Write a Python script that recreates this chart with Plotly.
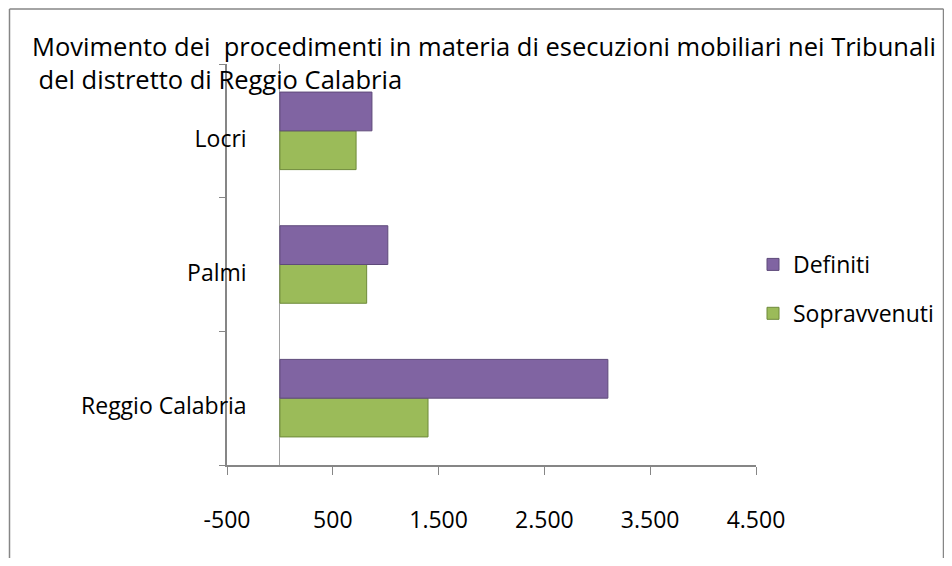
import plotly.graph_objects as go

categories = ["Reggio Calabria", "Palmi", "Locri"]
definiti = [3100, 1020, 870]
sopravvenuti = [1400, 820, 720]
tick_vals = [-500, 500, 1500, 2500, 3500, 4500]
tick_text = ["-500", "500", "1.500", "2.500", "3.500", "4.500"]

FONT = "'Open Sans', Lato, sans-serif"
# the page body has an 8px default margin, so the figure is drawn 8px lower/right
OFF = 8
W, H = 952 - 2 * OFF, 566 - 2 * OFF
L, T = 227 - OFF, 64 - OFF
R = W - (756 - OFF)
B = H - (465 - OFF)
pw, ph = W - L - R, H - T - B

def px_x(p):
    return (p - OFF - L) / pw

def px_y(p):
    return (H - B - (p - OFF)) / ph

fig = go.Figure()
fig.add_trace(go.Bar(
    y=categories, x=sopravvenuti, orientation="h", name="Sopravvenuti",
    marker=dict(color="#9BBB59", line=dict(color="#6E8A3A", width=1)),
    legendgroup="s", legendrank=2,
))
fig.add_trace(go.Bar(
    y=categories, x=definiti, orientation="h", name="Definiti",
    marker=dict(color="#8064A2", line=dict(color="#5E4A7A", width=1)),
    legendgroup="d", legendrank=1,
))

bx0, bx1, by0, by1 = px_x(9.5), px_x(943.5), px_y(600), px_y(9)
border = dict(type="line", xref="paper", yref="paper",
              line=dict(color="#868686", width=1.5), layer="below")

fig.update_layout(
    width=W, height=H,
    margin=dict(l=L, r=R, t=T, b=B, autoexpand=False),
    paper_bgcolor="white", plot_bgcolor="white",
    barmode="group", bargap=0.42, bargroupgap=0,
    font=dict(family=FONT, size=23, color="#000000"),
    title=dict(
        text="Movimento dei \u00a0procedimenti in materia di esecuzioni mobiliari nei Tribunali<br> del distretto di Reggio Calabria",
        x=24 / W, xanchor="left", xref="container",
        y=1 - 48 / H, yanchor="top", yref="container",
        font=dict(family=FONT, size=25.5, color="#000000"),
    ),
    xaxis=dict(
        range=[-500, 4500], tickvals=tick_vals, ticktext=tick_text,
        showgrid=False, zeroline=True, zerolinecolor="#A0A0A0", zerolinewidth=1,
        showline=True, linecolor="#868686", linewidth=1.5,
        ticks="outside", ticklen=8, tickcolor="#868686",
        ticklabelstandoff=26, fixedrange=True, automargin=False,
        tickfont=dict(family=FONT, size=23),
    ),
    yaxis=dict(
        categoryorder="array", categoryarray=categories,
        showgrid=False, showline=True, linecolor="#868686", linewidth=1.5,
        ticks="outside", ticklen=6, tickcolor="#868686", tickson="boundaries",
        ticklabelstandoff=-26, ticklabelshift=8, fixedrange=True, automargin=False,
    ),
    legend=dict(
        x=px_x(753), xanchor="left", y=0.439, yanchor="middle",
        traceorder="grouped", tracegroupgap=16,
        font=dict(family=FONT, size=23), bgcolor="rgba(0,0,0,0)",
    ),
    shapes=[
        dict(border, x0=bx0, x1=bx0, y0=by0, y1=by1),
        dict(border, x0=bx0, x1=bx1, y0=by1, y1=by1),
        dict(border, x0=bx1, x1=bx1, y0=by0, y1=by1),
    ],
)

fig.write_html("out.html")
